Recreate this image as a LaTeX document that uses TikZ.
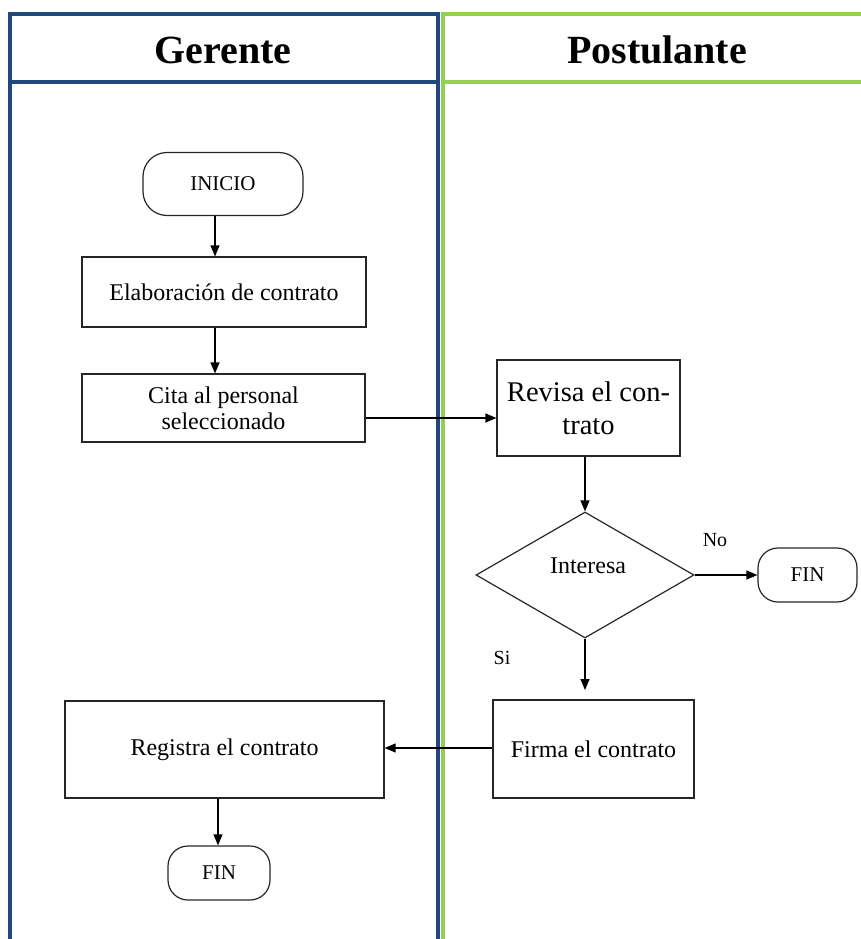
\documentclass[tikz,border=0pt]{standalone}
\usepackage{fontspec}
\setmainfont{Liberation Serif}
\usetikzlibrary{shapes.geometric,arrows.meta}
\definecolor{laneblue}{HTML}{1F497D}
\definecolor{lanegreen}{HTML}{92D050}
\tikzset{
  box/.style={draw=black!85, line width=1.2pt, rectangle, align=center, font=\fontsize{24}{26}\selectfont, inner sep=2pt},
  term/.style={draw=black!85, line width=1.2pt, rectangle, rounded corners=#1, align=center, font=\fontsize{21}{24}\selectfont},
  arr/.style={line width=1.2pt, -{Triangle[length=11pt,width=9pt]}},
  lbl/.style={font=\fontsize{20}{22}\selectfont},
  head/.style={font=\bfseries\fontsize{40}{44}\selectfont}
}
\begin{document}
\begin{tikzpicture}[x=1pt,y=-1pt]
\useasboundingbox (0,0) rectangle (861,939);
\begin{scope}
\clip (0,0) rectangle (861,939);
% green lane
\draw[lanegreen, line width=4.5pt] (443,960) -- (443,14) -- (880,14);
\draw[lanegreen, line width=4.5pt] (443,82) -- (880,82);
% blue lane
\draw[laneblue, line width=4.5pt] (10,960) -- (10,14) -- (438,14) -- (438,960);
\draw[laneblue, line width=4.5pt] (10,82) -- (438,82);
\end{scope}
\node[head] (hg) at (223,50) {Gerente};
\node[head] (hp) at (657,50) {Postulante};

\node[term=24pt, minimum width=160pt, minimum height=63pt] (ini) at (223,184) {INICIO};
\node[box, minimum width=284pt, minimum height=70pt] (ela) at (224,292) {Elaboración de contrato};
\node[box, minimum width=283pt, minimum height=68pt] (cita) at (223.5,408) {Cita al personal\\seleccionado};
\node[box, minimum width=183pt, minimum height=96pt, font=\fontsize{28.5}{33}\selectfont] (rev) at (588.5,408) {Revisa el con-\\trato};
\node[draw=black!85, line width=1.2pt, diamond, minimum width=218pt, minimum height=126pt, inner sep=0pt] (int) at (585,575) {};
\node[lbl, font=\fontsize{24}{26}\selectfont] (intt) at (588,566) {Interesa};
\node[term=20pt, minimum width=99pt, minimum height=54pt] (fin1) at (807.5,575) {FIN};
\node[lbl] (no) at (715,540) {No};
\node[lbl] (si) at (502,658) {Si};
\node[box, minimum width=201pt, minimum height=98pt] (fir) at (593.5,749) {Firma el contrato};
\node[box, minimum width=319pt, minimum height=97pt] (reg) at (224.5,749.5) {Registra el contrato};
\node[term=20pt, minimum width=102pt, minimum height=54pt] (fin2) at (219,873) {FIN};

\draw[arr] (ini.south -| 215,0) -- (ela.north -| 215,0);
\draw[arr] (ela.south -| 215,0) -- (cita.north -| 215,0);
\draw[arr] (cita.east |- 0,418) -- (rev.west |- 0,418);
\draw[arr] (rev.south -| 585,0) -- (int.north);
\draw[arr] (int.east) -- (fin1.west);
\coordinate (sidown) at (585,690);
\draw[arr] (int.south) -- (sidown);
\draw[arr] (fir.west |- 0,748) -- (reg.east |- 0,748);
\draw[arr] (reg.south -| 218,0) -- (fin2.north -| 218,0);
\end{tikzpicture}
\end{document}
